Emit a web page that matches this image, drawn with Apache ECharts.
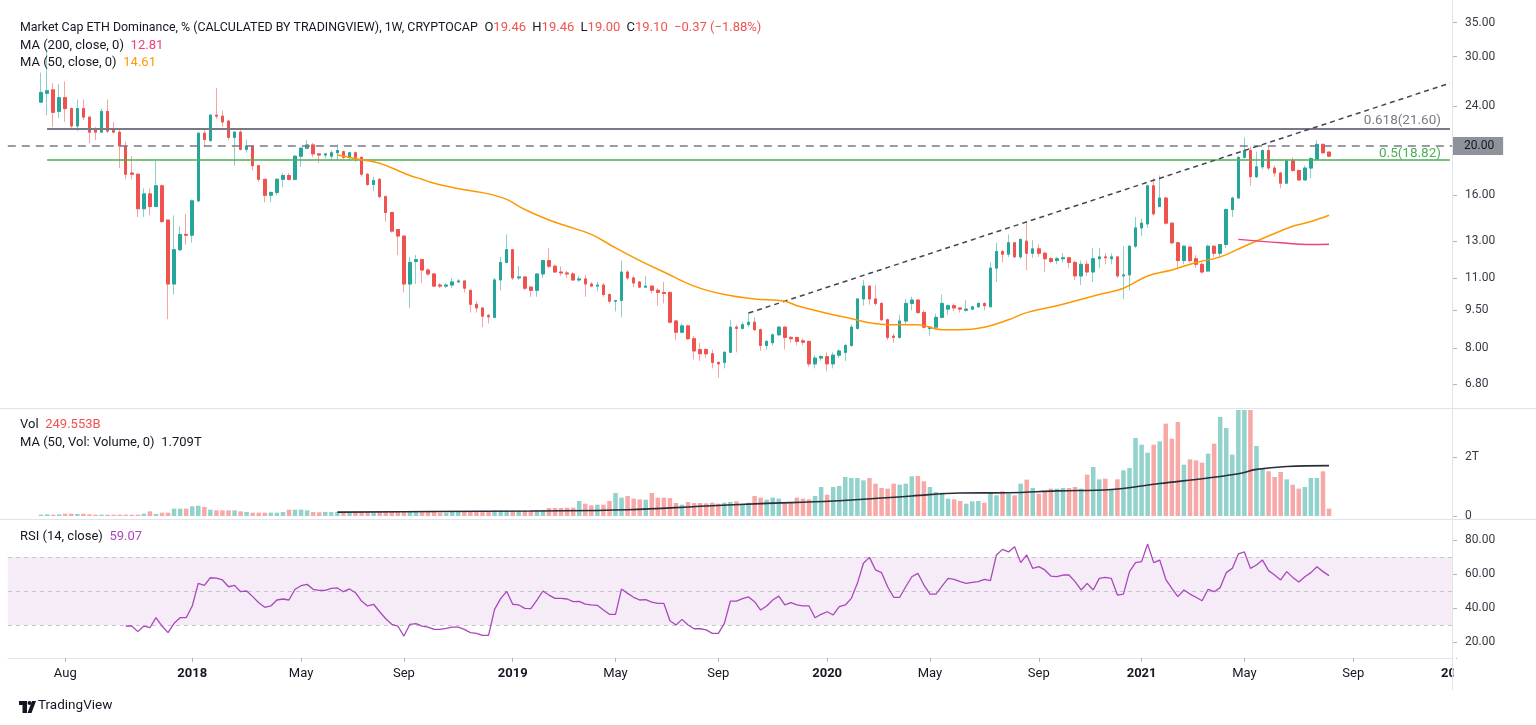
<!DOCTYPE html>
<html><head><meta charset="utf-8">
<script src="https://cdn.jsdelivr.net/npm/echarts@6/dist/echarts.min.js"></script>
<style>html,body{margin:0;padding:0;background:#fff;overflow:hidden}#c{width:1536px;height:725px}</style>
</head><body><div id="c"></div>
<script>
// ---------- DATA ----------
const firstBar = '2017-07-10';           // weekly bars
const padLeft = 5, padRight = 20;
// [open, high, low, close]
const ohlc = [
[24.4,27.9,24.3,25.5],[25.4,31.0,23.0,25.7],[25.8,26.6,21.8,23.3],[23.4,26.5,22.7,24.9],[24.9,26.8,22.3,23.7],
[23.7,23.8,21.5,21.9],[21.9,24.7,21.4,23.7],[23.7,24.7,22.5,22.8],[22.8,22.9,20.25,21.3],[21.55,21.8,20.55,21.3],
[21.3,23.7,21.2,23.4],[23.4,24.7,21.2,21.4],[21.5,22.3,21.2,21.3],[21.3,21.5,18.1,20.0],[20.0,20.4,17.2,17.6],
[17.7,19.1,17.2,17.6],[17.6,17.65,14.5,15.05],[15.05,16.5,14.5,16.1],[16.1,16.5,14.6,15.2],[15.2,18.7,15.2,16.7],
[16.7,16.8,14.1,14.2],[14.3,14.3,9.12,10.7],[10.7,14.6,10.2,12.5],[12.5,13.9,12.4,13.4],[13.4,14.7,12.8,13.35],
[13.35,15.7,12.9,15.6],[15.6,21.3,15.5,21.2],[21.2,21.7,19.95,20.6],[20.5,23.1,20.4,23.0],[23.0,26.0,22.6,22.9],
[22.9,23.5,21.8,22.3],[22.4,22.5,20.5,20.8],[20.8,21.4,18.3,21.3],[21.3,21.7,19.6,19.7],[19.7,20.6,19.4,20.0],
[20.0,20.1,17.9,18.3],[18.3,18.3,17.0,17.2],[17.2,17.2,15.5,16.0],[16.0,16.3,15.5,16.2],[16.2,17.3,16.0,17.2],
[17.2,17.7,16.6,17.5],[17.5,17.7,17.1,17.2],[17.2,19.2,17.1,19.1],[19.1,19.9,18.2,19.8],[19.8,20.55,19.8,20.1],
[20.1,20.3,19.0,19.3],[19.3,19.3,18.5,19.2],[19.2,19.35,18.9,19.3],[19.1,19.6,18.7,19.4],[19.4,20.2,18.8,19.6],
[19.5,19.6,18.8,19.0],[19.0,19.5,18.7,19.4],[19.4,19.5,18.6,19.0],[19.0,19.1,17.4,17.6],[17.6,17.7,16.7,16.8],
[16.8,17.4,16.3,17.1],[17.2,17.3,15.8,15.9],[15.9,16.0,14.2,14.8],[14.8,14.8,13.5,13.6],[13.7,13.7,12.2,13.3],
[13.3,13.3,10.3,10.7],[10.7,12.1,9.6,11.8],[11.85,12.2,10.7,11.95],[11.95,12.0,10.75,11.4],[11.4,11.5,11.1,11.2],
[11.2,11.2,10.55,10.6],[10.65,10.75,10.5,10.6],[10.6,10.75,10.5,10.65],[10.65,11.0,10.5,10.8],[10.8,10.95,10.75,10.85],
[10.85,10.9,10.3,10.5],[10.4,10.4,9.4,9.76],[9.76,9.9,9.4,9.6],[9.6,9.6,8.8,9.25],[9.28,9.35,8.95,9.22],
[9.2,11.0,9.2,10.9],[10.9,12.1,10.4,11.8],[11.8,13.4,11.75,12.5],[12.5,12.55,10.9,11.0],[11.0,11.6,10.9,11.05],
[11.05,11.1,10.4,10.5],[10.55,10.6,10.1,10.4],[10.4,11.2,10.1,11.2],[11.2,11.95,11.0,11.9],[11.9,12.6,11.5,11.6],
[11.6,11.7,11.25,11.3],[11.3,11.6,11.1,11.25],[11.25,11.35,11.0,11.2],[11.2,11.3,10.85,10.9],[10.9,11.1,10.8,10.95],
[10.95,11.15,10.1,10.7],[10.7,10.8,10.55,10.6],[10.6,10.8,10.35,10.65],[10.65,10.75,10.1,10.2],[10.2,10.25,9.8,9.9],
[9.9,9.95,9.45,9.93],[9.93,11.9,9.2,11.3],[11.3,11.4,10.9,11.0],[11.0,11.1,10.55,10.75],[10.8,10.85,10.5,10.55],
[10.55,11.1,10.5,10.6],[10.6,10.65,10.25,10.4],[10.4,10.5,9.7,10.3],[10.3,10.8,9.8,10.25],[10.3,10.35,8.95,9.0],
[9.05,9.1,8.3,8.6],[8.6,8.95,8.55,8.85],[8.85,8.9,8.3,8.35],[8.35,8.45,7.6,7.9],[7.95,8.2,7.55,7.8],
[7.95,8.0,7.65,7.8],[7.8,7.95,7.3,7.5],[7.5,7.55,7.0,7.45],[7.5,7.9,7.3,7.85],[7.85,9.1,7.85,8.8],
[8.8,8.9,7.85,8.75],[8.75,9.0,8.7,8.9],[8.9,9.4,8.8,9.0],[9.0,9.2,8.65,8.7],[8.7,8.75,7.9,8.1],
[8.1,8.3,7.95,8.25],[8.2,8.55,8.1,8.5],[8.5,8.85,8.45,8.8],[8.8,8.85,7.95,8.4],[8.4,8.45,8.2,8.35],
[8.4,8.4,8.1,8.25],[8.27,8.35,8.1,8.22],[8.25,8.25,7.35,7.45],[7.45,7.75,7.3,7.65],[7.65,7.75,7.55,7.7],
[7.7,7.85,7.2,7.45],[7.45,7.85,7.3,7.75],[7.75,7.95,7.65,7.9],[7.85,8.15,7.55,8.1],[8.1,8.9,8.05,8.8],
[8.75,10.05,8.7,10.0],[10.0,10.9,9.7,10.6],[10.6,10.65,9.75,10.0],[10.0,10.65,9.7,9.8],[9.8,9.85,9.05,9.1],
[9.1,9.15,8.3,8.4],[8.45,8.55,8.2,8.4],[8.4,9.3,8.35,9.05],[9.05,10.0,8.9,9.8],[9.8,10.1,9.5,9.95],
[9.95,10.0,9.35,9.4],[9.4,9.5,8.75,8.8],[8.75,8.85,8.45,8.8],[8.8,9.35,8.75,9.2],[9.2,10.2,9.15,9.8],
[9.55,9.75,9.3,9.7],[9.7,9.8,9.45,9.6],[9.6,9.62,9.4,9.55],[9.5,9.95,9.45,9.55],[9.55,9.68,9.5,9.65],
[9.65,9.85,9.6,9.8],[9.8,9.85,9.5,9.7],[9.65,11.8,9.65,11.5],[11.5,12.9,10.8,12.4],[12.4,12.5,11.8,12.25],
[12.25,13.4,12.1,12.9],[12.9,12.95,12.05,12.1],[12.1,13.15,12.0,13.1],[13.0,14.2,11.4,12.3],[12.3,13.05,12.05,12.55],
[12.55,12.8,12.1,12.3],[12.3,12.4,11.3,12.0],[12.0,12.1,11.75,11.85],[11.9,12.1,11.7,12.0],[12.0,12.3,11.8,12.05],
[12.05,12.1,11.5,11.8],[11.8,11.9,10.9,11.1],[11.1,11.9,10.65,11.7],[11.7,11.9,11.1,11.3],[11.3,12.6,10.8,12.0],
[12.0,12.6,11.5,12.1],[12.1,12.3,11.7,12.05],[12.0,12.3,11.7,12.1],[12.1,12.15,11.0,11.1],[11.1,12.7,10.0,11.15],
[11.15,12.75,10.4,12.7],[12.7,14.5,12.6,13.8],[13.8,14.4,13.3,14.1],[14.05,16.8,13.8,16.7],[16.7,17.3,14.6,14.7],
[15.2,17.5,15.2,15.8],[15.8,15.9,14.0,14.1],[14.1,14.15,12.8,12.9],[12.9,12.95,11.5,11.9],[11.9,12.75,11.7,12.7],
[12.65,12.7,11.8,11.9],[12.0,12.2,11.5,11.7],[11.7,11.8,11.2,11.3],[11.35,12.8,11.3,12.7],[12.7,12.75,12.1,12.3],
[12.3,12.85,12.1,12.8],[12.8,15.05,12.6,15.0],[15.0,15.9,14.5,15.8],[15.8,19.1,15.75,19.0],[19.0,20.8,18.9,19.6],
[19.6,19.95,16.7,17.4],[17.4,19.5,17.3,18.2],[18.2,19.7,18.0,19.6],[19.6,20.0,17.9,18.1],[18.1,18.3,17.4,17.7],
[17.7,17.8,16.5,16.9],[16.9,18.8,16.85,18.7],[18.7,19.0,17.8,17.9],[17.9,18.0,17.1,17.15],[17.15,18.3,17.1,18.1],
[18.1,19.0,17.3,18.9],[18.85,20.55,18.75,20.15],[20.15,20.25,19.3,19.4],[19.46,19.46,19.00,19.10]
];
// weekly volume, billions
const volume = [
45,57,45,57,79,79,68,79,57,45, 45,45,45,45,45,45,45,79,158,68,
113,113,249,249,249,328,350,305,215,192, 192,192,192,158,136,113,113,113,113,113,
136,215,215,215,192,136,128,140,132,136, 138,130,136,142,136,131,136,140,136,133,
136,140,136,131,136,138,113,113,136,136, 136,158,158,158,158,192,192,192,192,192,
192,192,192,192,271,271,271,283,283,509, 418,362,384,384,509,780,622,678,588,565,
554,780,622,622,610,441,384,475,441,441, 430,452,418,452,475,497,384,452,678,
622,554,622,588,441,441,622,588,565,678, 983,723,983,1017,1322,1288,1288,1209,1288,1096,
949,927,1096,1062,1096,1345,1356,1175,983,814, 791,588,565,509,418,497,509,452,814,701,
836,757,701,1096,1232,949,757,836,927,927, 949,949,983,927,1401,1661,1243,1266,904,1243,
1548,1627,2644,2418,2147,2418,2531,3130,2622,3187, 1740,1921,1887,1808,2113,2452,3356,2983,2079,4000,
4000,4000,2373,1627,1514,1322,1492,1243,1062,927, 983,1288,1288,1514,250
];
// moving averages: [bar index, value]
const ma50 = [[49,19.2],[53,18.8],[56,18.5],[59,17.9],[61,17.5],[63,17.2],[65,16.9],[70,16.4],[74,16.1],[77,15.7],
[80,15.0],[84,14.3],[87,13.9],[91,13.4],[95,12.6],[99,11.9],[103,11.3],[108,10.6],[113,10.2],[118,10.0],[123,9.9],
[125,9.7],[133,9.2],[140,8.9],[145,8.9],[149,8.7],[152,8.7],[156,8.8],[160,9.1],[163,9.4],[168,9.7],[175,10.2],
[179,10.5],[183,11.1],[187,11.4],[191,11.8],[195,12.1],[199,12.7],[203,13.3],[207,13.9],[210,14.2],[213,14.61]];
const ma200 = [[198,13.1],[205,12.9],[210,12.8],[213,12.81]];
const volMa50 = [[49,130],[65,150],[81,170],[97,210],[110,340],[119,420],[131,510],[144,680],[152,780],[160,790],
[168,850],[177,900],[185,1100],[193,1290],[198,1430],[201,1580],[206,1680],[213,1709]];
const rsiStart = 14;
const rsi = [
29.4,29.4,26.1,29.4,28.4,34.3,29.4,25.5,31.0,34.3, 34.3,41.2,54.5,53.3,57.8,57.6,56.5,52.5,53.3,49.6,
50.0,46.7,43.1,40.4,41.2,44.7,45.3,44.7,51.0,53.1, 53.9,51.0,50.4,50.4,51.6,51.8,49.6,51.2,49.0,44.1,
41.2,42.2,37.8,33.7,30.4,29.4,23.5,30.4,30.8,29.4, 28.8,27.4,27.4,28.0,28.8,28.8,27.4,25.5,25.1,23.9,
23.9,39.2,45.5,49.8,42.2,41.8,39.8,39.6,44.7,50.0, 47.6,45.7,45.7,45.3,43.7,43.9,42.3,41.8,41.6,38.8,
36.3,36.3,51.2,48.6,46.3,44.7,44.9,43.5,42.7,42.7, 32.5,30.0,33.3,30.0,27.8,27.8,27.1,25.1,25.1,31.0,
44.1,44.1,45.5,46.5,43.7,38.8,
41.2,44.7,47.0,41.8,43.1,41.8,41.2,41.2,34.3,36.3, 37.8,35.9,40.8,41.8,45.7,54.5,66.3,69.8,62.4,60.8,
52.5,46.3,46.3,52.5,58.4,60.4,53.5,48.2,48.2,52.9, 57.4,56.9,55.5,54.5,55.1,55.5,56.9,56.1,71.2,74.5,
73.0,76.1,66.7,71.2,63.3,64.3,62.4,58.8,58.4,59.4, 59.4,55.5,50.6,54.5,50.6,57.4,58.0,57.4,47.6,48.2,
61.4,66.7,67.3,77.6,66.7,68.2,56.9,51.6,46.7,50.6, 48.2,46.3,44.3,51.0,49.6,52.0,60.8,63.3,71.8,73.0,
63.3,65.3,68.2,62.0,59.4,56.5,61.4,58.0,55.3,58.4, 60.8,64.3,61.4,59.07
];
// annotation levels
const fib618 = 21.60, fib50 = 18.82, hLine = 20.00;
const fibStartBar = 1;
const trendFrom = [117, 9.38], trendTo = [233, 26.6];
// axis ticks
const priceTicks = [6.8, 8, 9.5, 11, 13, 16, 20, 24, 30, 35];
const volTicks = [0, 2000];
const rsiTicks = [20, 40, 60, 80];
const tickDates  = ['2017-08-07','2018-01-01','2018-05-07','2018-09-03','2019-01-07','2019-05-06','2019-09-02',
                    '2020-01-06','2020-05-04','2020-09-07','2021-01-04','2021-05-03','2021-09-06','2022-01-03'];
const tickLabels = ['Aug','2018','May','Sep','2019','May','Sep','2020','May','Sep','2021','May','Sep','2022'];
const header = {
  title: 'Market Cap ETH Dominance, % (CALCULATED BY TRADINGVIEW), 1W, CRYPTOCAP',
  o: '19.46', h: '19.46', l: '19.00', c: '19.10', chg: '\u22120.37 (\u22121.88%)',
  ma200: '12.81', ma50: '14.61', vol: '249.553B', volMa: '1.709T', rsi: '59.07'
};

// ---------- BUILD ----------
const N = ohlc.length;
const nCat = padLeft + N + padRight;
function fmt(d){ return d.toISOString().slice(0,10); }
const t0 = Date.parse(firstBar + 'T00:00:00Z') - padLeft * 7 * 864e5;
const cats = [], labelCats = [];
for (let i = 0; i < nCat + 2; i++) {
  const s = fmt(new Date(t0 + i * 7 * 864e5));
  if (i < nCat) cats.push(s);
  labelCats.push(s);
}
const tickMap = {}; tickDates.forEach((d, i) => tickMap[d] = tickLabels[i]);
const pad = arr => Array(padLeft).fill('-').concat(arr, Array(padRight).fill('-'));
const sparse = pts => { const a = Array(nCat).fill(null); pts.forEach(([b, v]) => a[padLeft + b] = v); return a; };

const UP = '#26a69a', DN = '#ef5350', UPL = '#8ed0c9', DNL = '#f6a5a3';
const wickData = pad(ohlc.map(([o,h,l,c]) => [o, c, l, h]));
const bodyData = pad(ohlc.map(([o,h,l,c]) => [o, c, Math.min(o,c), Math.max(o,c)]));
const volData = pad(volume.map((v, i) => ({ value: v, itemStyle: { color: ohlc[i][3] >= ohlc[i][0] ? '#92d2cc' : '#f7a9a7' } })));
const rsiData = Array(nCat).fill(null);
rsi.forEach((v, i) => rsiData[padLeft + rsiStart + i] = v);

const FONT = 'Roboto, "Liberation Sans", sans-serif';
const GL = 7.8, GR = 83;
const catW = (1536 - GL - GR) / nCat;
const axisLbl = { color: '#363a45', fontSize: 12, fontFamily: FONT, margin: 12 };
const txt = (fill, size) => ({ fill: fill, fontSize: size || 13, fontFamily: FONT });

const chart = echarts.init(document.getElementById('c'), null, { renderer: 'canvas' });
const option = {
  animation: false,
  backgroundColor: '#ffffff',
  textStyle: { fontFamily: FONT },
  grid: [
    { left: GL, right: GR, top: 0, height: 408 },
    { left: GL, right: GR, top: 410, height: 106 },
    { left: GL, right: GR, top: 521, height: 137 },
    { left: GL, width: catW * (nCat + 2), top: 657, height: 1 }
  ],
  xAxis: [
    { type: 'category', gridIndex: 0, data: cats, show: false, boundaryGap: true },
    { type: 'category', gridIndex: 1, data: cats, show: false, boundaryGap: true },
    { type: 'category', gridIndex: 2, data: cats, boundaryGap: true,
      axisLine: { show: true, lineStyle: { color: '#e0e3eb', width: 1 } }, axisTick: { show: false }, axisLabel: { show: false } },
    { type: 'category', gridIndex: 3, data: labelCats, boundaryGap: true,
      axisLine: { show: false },
      axisTick: { show: true, alignWithLabel: true, length: 4, lineStyle: { color: '#b2b5be' }, interval: (i, v) => !!tickMap[v] },
      axisLabel: { show: true, interval: (i, v) => !!tickMap[v], margin: 9, fontSize: 13, color: '#131722', fontFamily: FONT,
        formatter: v => { const t = tickMap[v] || ''; return /^\d{4}$/.test(t) ? '{y|' + t + '}' : '{m|' + t + '}'; },
        rich: { y: { fontWeight: 'bold', fontSize: 13, color: '#131722', fontFamily: FONT }, m: { fontSize: 13, color: '#131722', fontFamily: FONT } } } }
  ],
  yAxis: [
    { type: 'log', logBase: 10, gridIndex: 0, position: 'right', min: 6.10, max: 38.77,
      axisLine: { show: false }, splitLine: { show: false },
      axisTick: { show: true, length: 4, lineStyle: { color: '#b2b5be' }, customValues: priceTicks },
      axisLabel: Object.assign({}, axisLbl, { customValues: priceTicks, formatter: v => Number(v).toFixed(2) }) },
    { type: 'value', gridIndex: 1, position: 'right', min: 0, max: 3593,
      axisLine: { show: false }, splitLine: { show: false },
      axisTick: { show: true, length: 4, lineStyle: { color: '#b2b5be' }, customValues: volTicks },
      axisLabel: Object.assign({}, axisLbl, { customValues: volTicks, formatter: v => v === 0 ? '0' : (v / 1000) + 'T' }) },
    { type: 'value', gridIndex: 2, position: 'right', min: 10.59, max: 91.18,
      axisLine: { show: false }, splitLine: { show: false },
      axisTick: { show: true, length: 4, lineStyle: { color: '#b2b5be' }, customValues: rsiTicks },
      axisLabel: Object.assign({}, axisLbl, { customValues: rsiTicks, formatter: v => Number(v).toFixed(2) }) },
    { type: 'value', gridIndex: 3, show: false }
  ],
  series: [
    { type: 'candlestick', xAxisIndex: 0, yAxisIndex: 0, data: wickData, barWidth: 3, z: 3,
      itemStyle: { color: UPL, color0: DNL, borderColor: UPL, borderColor0: DNL, borderWidth: 1 } },
    { type: 'candlestick', xAxisIndex: 0, yAxisIndex: 0, data: bodyData, barWidth: 3, z: 4,
      itemStyle: { color: UP, color0: DN, borderColor: UP, borderColor0: DN, borderWidth: 1 } },
    { type: 'line', xAxisIndex: 0, yAxisIndex: 0, data: sparse(ma50), connectNulls: true, smooth: 0.4, showSymbol: false, z: 5,
      lineStyle: { color: '#ff9800', width: 1.5 } },
    { type: 'line', xAxisIndex: 0, yAxisIndex: 0, data: sparse(ma200), connectNulls: true, smooth: 0.4, showSymbol: false, z: 5,
      lineStyle: { color: '#f0407a', width: 1.5 } },
    { type: 'line', xAxisIndex: 0, yAxisIndex: 0, data: [], clip: false, silent: true, z: 2,
      markLine: { silent: true, symbol: 'none', animation: false,
        data: [
          [ { coord: [cats[padLeft + fibStartBar], fib618] }, { coord: [cats[nCat - 1], fib618],
              lineStyle: { color: '#787b86', width: 2, type: 'solid' },
              label: { show: true, position: 'insideEndTop', formatter: '0.618(' + fib618.toFixed(2) + ')', color: '#787b86', fontSize: 13.5, fontFamily: FONT, distance: [9, 1] } } ],
          [ { coord: [cats[padLeft + fibStartBar], fib50] }, { coord: [cats[nCat - 1], fib50],
              lineStyle: { color: '#4caf50', width: 1.5, type: 'solid' },
              label: { show: true, position: 'insideEndTop', formatter: '0.5(' + fib50.toFixed(2) + ')', color: '#4caf50', fontSize: 13.5, fontFamily: FONT, distance: [9, -1] } } ],
          { yAxis: hLine, lineStyle: { color: '#787b86', width: 1.5, type: [8, 6] },
            label: { show: true, position: 'end', formatter: hLine.toFixed(2), backgroundColor: '#8f929b', color: '#131722',
                     fontSize: 12, fontFamily: FONT, padding: [3, 9, 3, 11], distance: 0 } },
          [ { coord: [cats[padLeft + trendFrom[0]], trendFrom[1]] }, { coord: [cats[padLeft + trendTo[0]], trendTo[1]],
              lineStyle: { color: '#434651', width: 1.5, type: [5, 4] }, label: { show: false } } ]
        ] } },
    { type: 'bar', xAxisIndex: 1, yAxisIndex: 1, data: volData, barWidth: 4.5, clip: true },
    { type: 'line', xAxisIndex: 1, yAxisIndex: 1, data: sparse(volMa50), connectNulls: true, smooth: 0.4, showSymbol: false, z: 5,
      lineStyle: { color: '#2a2e39', width: 1.6 } },
    { type: 'line', xAxisIndex: 2, yAxisIndex: 2, data: rsiData, showSymbol: false, z: 5,
      lineStyle: { color: '#ab47bc', width: 1.3 },
      markArea: { silent: true, itemStyle: { color: 'rgba(156, 39, 176, 0.09)' }, data: [[{ yAxis: 30 }, { yAxis: 70 }]] },
      markLine: { silent: true, symbol: 'none', label: { show: false },
        lineStyle: { color: '#c3c5cc', width: 1, type: [4, 4] }, data: [{ yAxis: 70 }, { yAxis: 50 }, { yAxis: 30 }] } }
  ],
  graphic: [
    { type: 'line', shape: { x1: 0, y1: 408.5, x2: 1536, y2: 408.5 }, style: { stroke: '#e0e3eb', lineWidth: 1 }, silent: true },
    { type: 'line', shape: { x1: 0, y1: 519.5, x2: 1536, y2: 519.5 }, style: { stroke: '#e0e3eb', lineWidth: 1 }, silent: true },
    { type: 'rect', shape: { x: 1453.5, y: 659, width: 90, height: 40 }, style: { fill: '#ffffff' }, z: 100, silent: true },
    { type: 'line', shape: { x1: 1452.5, y1: 0, x2: 1452.5, y2: 690 }, style: { stroke: '#e0e3eb', lineWidth: 1 }, z: 101, silent: true },
    { type: 'text', left: 20, top: 21, z: 50, style: {
        text: '{t|' + header.title + '}  {d|O}{r|' + header.o + '} {d|H}{r|' + header.h + '} {d|L}{r|' + header.l + '} {d|C}{r|' + header.c + '} {r|' + header.chg + '}',
        rich: { t: txt('#131722', 12.4), d: txt('#131722'), r: Object.assign(txt('#ef5350'), { padding: [0, 3, 0, 0] }) } } },
    { type: 'text', left: 20, top: 39, z: 50, style: {
        text: '{d|MA (200, close, 0)}  {v|' + header.ma200 + '}', rich: { d: txt('#131722'), v: txt('#f0407a') } } },
    { type: 'text', left: 20, top: 56, z: 50, style: {
        text: '{d|MA (50, close, 0)}  {v|' + header.ma50 + '}', rich: { d: txt('#131722'), v: txt('#ff9800') } } },
    { type: 'text', left: 20, top: 418, z: 50, style: {
        text: '{d|Vol}  {v|' + header.vol + '}', rich: { d: txt('#131722'), v: txt('#ef5350') } } },
    { type: 'text', left: 20, top: 436, z: 50, style: {
        text: '{d|MA (50, Vol: Volume, 0)}  {v|' + header.volMa + '}', rich: { d: txt('#131722'), v: txt('#131722') } } },
    { type: 'text', left: 20, top: 530, z: 50, style: {
        text: '{d|RSI (14, close)}  {v|' + header.rsi + '}', rich: { d: txt('#131722'), v: txt('#ab47bc') } } },
    { type: 'group', left: 19, top: 701, z: 50, children: [
        { type: 'rect', shape: { x: 0, y: 0, width: 8, height: 4 }, style: { fill: '#131722' } },
        { type: 'rect', shape: { x: 3.5, y: 0, width: 4.5, height: 12 }, style: { fill: '#131722' } },
        { type: 'circle', shape: { cx: 10.5, cy: 2, r: 2 }, style: { fill: '#131722' } },
        { type: 'polygon', shape: { points: [[8.5, 12], [13, 0], [17, 0], [12.5, 12]] }, style: { fill: '#131722' } }
    ] },
    { type: 'text', left: 38, top: 699, z: 50, style: { text: 'TradingView', fill: '#131722', fontSize: 13.5, fontFamily: FONT } }
  ]
};
chart.setOption(option);
</script>
</body></html>
